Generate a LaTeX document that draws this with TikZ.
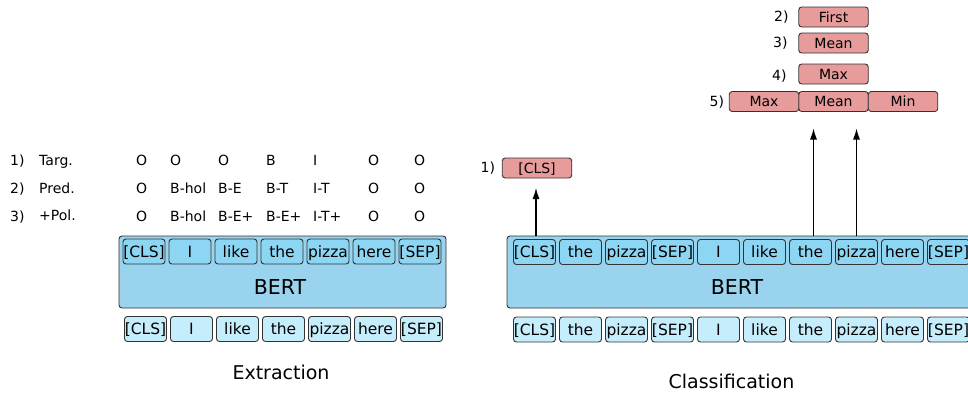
\documentclass[tikz,border=0pt]{standalone}
\usepackage{fontspec}
\setmainfont{DejaVu Sans}
\usepackage{xcolor}
\usepackage{tikz}
\usetikzlibrary{positioning,arrows.meta}
\definecolor{BertBlue}{HTML}{99D3EE}
\definecolor{TokBlue}{HTML}{8DD6F3}
\definecolor{InBlue}{HTML}{C6EDFB}
\definecolor{PoolRed}{HTML}{E79C9B}
\definecolor{EdgeGray}{HTML}{333333}

\begin{document}
\begin{tikzpicture}[x=1pt, y=-1pt, >={Latex[length=11pt,width=7pt]},
                    tok/.style={draw=EdgeGray, line width=0.9pt, rounded corners=3pt, fill=TokBlue,
                                minimum width=42pt, minimum height=25pt, inner sep=0pt, outer sep=0pt,
                                text height=14.5pt, text depth=3.2pt,
                                font=\fontsize{15.5}{18}\selectfont},
                    tokin/.style={tok, fill=InBlue},
                    bert/.style={draw=EdgeGray, line width=0.9pt, rounded corners=3pt, fill=BertBlue,
                                 minimum width=#1, minimum height=72pt, inner sep=0pt, outer sep=0pt},
                    pool/.style={draw=EdgeGray, line width=0.9pt, rounded corners=3pt, fill=PoolRed,
                                 minimum width=69.5pt, minimum height=20pt, inner sep=0pt, outer sep=0pt,
                                 text height=13pt, text depth=2.8pt,
                                 font=\fontsize{14}{17}\selectfont},
                    tag/.style={anchor=base west, inner sep=0pt, font=\fontsize{14}{16}\selectfont},
                    num/.style={inner sep=0pt, font=\fontsize{14}{16}\selectfont},
                    bigtext/.style={inner sep=0pt, font=\fontsize{20.5}{24}\selectfont},
                    caption/.style={inner sep=0pt, font=\fontsize{19}{23}\selectfont}]
\useasboundingbox (0,0) rectangle (968,394);

% extraction
\node[bert=327pt] (bertl) at (282.5,272) {};
\node[bigtext] (bertltext) at (280,287) {BERT};
\node[tok] (tokl1) at (144,251.5) {[CLS]};
\node[tok, right=4pt of tokl1] (tokl2) {I};
\node[tok, right=4pt of tokl2] (tokl3) {like};
\node[tok, right=4pt of tokl3] (tokl4) {the};
\node[tok, right=4pt of tokl4] (tokl5) {pizza};
\node[tok, right=4pt of tokl5] (tokl6) {here};
\node[tok, right=4pt of tokl6] (tokl7) {[SEP]};
\node[tokin] (inl1) at (145.5,329) {[CLS]};
\node[tokin, right=4pt of inl1] (inl2) {I};
\node[tokin, right=4pt of inl2] (inl3) {like};
\node[tokin, right=4pt of inl3] (inl4) {the};
\node[tokin, right=4pt of inl4] (inl5) {pizza};
\node[tokin, right=4pt of inl5] (inl6) {here};
\node[tokin, right=4pt of inl6] (inl7) {[SEP]};

\node[tag] (targn) at (10,165) {1)};
\node[tag] (targ) at (39,165) {Targ.};
\node[tag] (targ1) at (136,165) {O};
\node[tag] (targ2) at (170,165) {O};
\node[tag] (targ3) at (218,165) {O};
\node[tag] (targ4) at (266,165) {B};
\node[tag] (targ5) at (313,165) {I};
\node[tag] (targ6) at (368,165) {O};
\node[tag] (targ7) at (414,165) {O};
\node[tag] (predn) at (10,193) {2)};
\node[tag] (pred) at (39,193) {Pred.};
\node[tag] (pred1) at (136,193) {O};
\node[tag] (pred2) at (170,193) {B-hol};
\node[tag] (pred3) at (218,193) {B-E};
\node[tag] (pred4) at (266,193) {B-T};
\node[tag] (pred5) at (313,193) {I-T};
\node[tag] (pred6) at (368,193) {O};
\node[tag] (pred7) at (414,193) {O};
\node[tag] (poln) at (10,221) {3)};
\node[tag] (pol) at (39,220) {+Pol.};
\node[tag] (pol1) at (136,221) {O};
\node[tag] (pol2) at (170,221) {B-hol};
\node[tag] (pol3) at (218,221) {B-E+};
\node[tag] (pol4) at (266,221) {B-E+};
\node[tag] (pol5) at (313,221) {I-T+};
\node[tag] (pol6) at (368,221) {O};
\node[tag] (pol7) at (414,221) {O};
\node[caption] (extr) at (281,372) {Extraction};

% classification
\node[bert=467pt] (bertr) at (740.5,272) {};
\node[bigtext] (bertrtext) at (737,287) {BERT};
\node[tok] (tokr1) at (534.5,252) {[CLS]};
\node[tok, right=4pt of tokr1] (tokr2) {the};
\node[tok, right=4pt of tokr2] (tokr3) {pizza};
\node[tok, right=4pt of tokr3] (tokr4) {[SEP]};
\node[tok, right=4pt of tokr4] (tokr5) {I};
\node[tok, right=4pt of tokr5] (tokr6) {like};
\node[tok, right=4pt of tokr6] (tokr7) {the};
\node[tok, right=4pt of tokr7] (tokr8) {pizza};
\node[tok, right=4pt of tokr8] (tokr9) {here};
\node[tok, right=4pt of tokr9] (tokr10) {[SEP]};
\node[tokin] (inr1) at (534.5,329.5) {[CLS]};
\node[tokin, right=4pt of inr1] (inr2) {the};
\node[tokin, right=4pt of inr2] (inr3) {pizza};
\node[tokin, right=4pt of inr3] (inr4) {[SEP]};
\node[tokin, right=4pt of inr4] (inr5) {I};
\node[tokin, right=4pt of inr5] (inr6) {like};
\node[tokin, right=4pt of inr6] (inr7) {the};
\node[tokin, right=4pt of inr7] (inr8) {pizza};
\node[tokin, right=4pt of inr8] (inr9) {here};
\node[tokin, right=4pt of inr9] (inr10) {[SEP]};

\node[pool] (clsout) at (537,168) {[CLS]};
\node[num, left=7pt of clsout] (clsn) {1)};
\node[pool] (first) at (833.5,17) {First};
\node[num, left=10pt of first] (firstn) {2)};
\node[pool] (mean) at (833.5,43) {Mean};
\node[num, left=11pt of mean] (meann) {3)};
\node[pool] (max) at (833.5,74) {Max};
\node[num, left=12pt of max, yshift=-2pt] (maxn) {4)};
\node[pool] (catmean) at (833.5,101.5) {Mean};
\node[pool, left=0pt of catmean] (catmax) {Max};
\node[pool, right=0pt of catmean] (catmin) {Min};
\node[num, left=5pt of catmax, yshift=-1pt] (catn) {5)};
\node[caption] (clas) at (731.5,381) {Classification};

\draw[->, line width=1.1pt, shorten >=10pt] ([xshift=-1pt]clsout.south |- bertr.north) -- ([xshift=-1pt]clsout.south);
\draw[->, line width=1.1pt, shorten >=17pt] ([xshift=3pt]tokr7.north |- bertr.north) -- ([xshift=3pt]tokr7.north |- catmean.south);
\draw[->, line width=1.1pt, shorten >=17pt] (tokr8.north |- bertr.north) -- (tokr8.north |- catmean.south);
\end{tikzpicture}
\end{document}
